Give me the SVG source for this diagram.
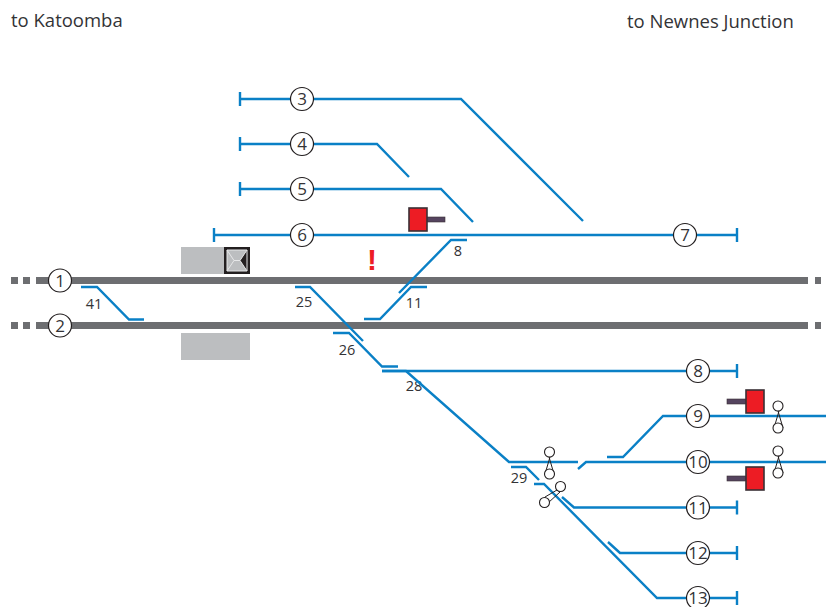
<svg xmlns="http://www.w3.org/2000/svg" width="826" height="607" viewBox="0 0 826 607">
<style>
text{font-family:"Open Sans","Noto Sans","Liberation Sans",sans-serif;fill:#333336}
.t{font-size:18.5px}
.n{font-size:14.5px;text-anchor:middle}
.c{font-size:17px;text-anchor:middle}
.b{fill:none;stroke:#0a80c6;stroke-width:2.4}
.g{fill:none;stroke:#6d6e71;stroke-width:7}
.o{fill:#fff;stroke:#231f20;stroke-width:1.2}
.s{fill:#fff;stroke:#231f20;stroke-width:1.1}
.x{fill:none;stroke:#231f20;stroke-width:1}
.r{fill:#ed1c24;stroke:#3a3035;stroke-width:1.6}
.a{fill:#55445f;stroke:#3a3035;stroke-width:.6}
.p{fill:#bcbec0}
</style>
<g id="labels">
<text class="t" x="11" y="27">to Katoomba</text>
<text class="t" x="627" y="28">to Newnes Junction</text>
<text class="n" x="94" y="309">41</text>
<text class="n" x="304" y="307">25</text>
<text class="n" x="414" y="308">11</text>
<text class="n" x="458" y="256">8</text>
<text class="n" x="347" y="355">26</text>
<text class="n" x="414" y="391">28</text>
<text class="n" x="519" y="483">29</text>
</g>
<g id="platforms">
<rect class="p" x="181" y="247" width="69" height="27"/>
<rect class="p" x="181" y="333" width="69" height="27"/>
</g>
<g id="connectors">
<path class="g" d="M36 280.500H808M11 280.500H18M23 280.500H30M815 280.500H821M36 325.500H808M11 325.500H18M23 325.500H30M815 325.500H821"/>
<path class="b" d="M240 92V106M240 99H461L583 221"/>
<path class="b" d="M240 137V151M240 144H377L409 177"/>
<path class="b" d="M240 182V196M240 189H441L473 222"/>
<path class="b" d="M214 228V242M214 235H737M737 228V242"/>
<path class="b" d="M81 287H97L129 319.500H144"/>
<path class="b" d="M295 287H310L363 341"/>
<path class="b" d="M333 333H349L382 366.500H398"/>
<path class="b" d="M382 371H737M737 364V378"/>
<path class="b" d="M364 319H380L411 287H427"/>
<path class="b" d="M399 293L451 240H467"/>
<path class="b" d="M382 371H406L509 462H578"/>
<path class="b" d="M511 467H526L539 480"/>
<path class="b" d="M534 484H544L657 598H737M737 591V605"/>
<path class="b" d="M562 497L574 507.500H737M737 500.500V514.500"/>
<path class="b" d="M608 542L620 553H737M737 546V560"/>
<path class="b" d="M578 469L586 462H826"/>
<path class="b" d="M607 457H623L663 416H826"/>
</g>
<g id="signal-1"><rect class="a" x="426" y="217" width="19" height="5"/><rect class="r" x="409" y="208" width="18" height="23"/></g>
<g id="signal-2"><rect class="a" x="727" y="399" width="19" height="5"/><rect class="r" x="746" y="390" width="18" height="23"/></g>
<g id="signal-3"><rect class="a" x="727" y="476" width="19" height="5"/><rect class="r" x="746" y="467" width="18" height="23"/></g>
<g id="box"><rect x="224" y="247" width="26" height="27" fill="#231f20"/><path d="M227 250H247V271H227ZM227 250L234 260.500L227 271M247 250L240 260.500L247 271M234 260.500H240" fill="#bcbec0" stroke="#e6e7e8" stroke-width="1"/></g>
<text id="alert" x="372" y="270" font-size="30" font-weight="700" text-anchor="middle" style="fill:#ed1c24;font-family:'Liberation Sans',sans-serif">!</text>
<g id="points-1"><path class="x" d="M549 457L554 474H545L550 457Z"/><circle class="s" cx="549.500" cy="452" r="5"/><circle class="s" cx="549.500" cy="474" r="5"/></g>
<g id="points-2"><path class="x" d="M778 411L783 428H774L779 411Z"/><circle class="s" cx="778" cy="406" r="5"/><circle class="s" cx="778" cy="428" r="5"/></g>
<g id="points-3"><path class="x" d="M778 456L783 473H774L779 456Z"/><circle class="s" cx="778" cy="451" r="5"/><circle class="s" cx="778" cy="473" r="5"/></g>
<g id="points-4"><path class="x" d="M557 490L545 497L548 503L560 492Z"/><circle class="s" cx="560.500" cy="486.500" r="5"/><circle class="s" cx="544.500" cy="502.500" r="5"/></g>
<g id="n1"><circle class="o" cx="60" cy="280.500" r="11.500"/><text class="c" x="60" y="286.500">1</text></g>
<g id="n2"><circle class="o" cx="60" cy="325.500" r="11.500"/><text class="c" x="60" y="331.500">2</text></g>
<g id="n3"><circle class="o" cx="302" cy="99" r="11.500"/><text class="c" x="302" y="105">3</text></g>
<g id="n4"><circle class="o" cx="302" cy="144" r="11.500"/><text class="c" x="302" y="150">4</text></g>
<g id="n5"><circle class="o" cx="302" cy="189" r="11.500"/><text class="c" x="302" y="195">5</text></g>
<g id="n6"><circle class="o" cx="302" cy="235" r="11.500"/><text class="c" x="302" y="241">6</text></g>
<g id="n7"><circle class="o" cx="685" cy="235" r="11.500"/><text class="c" x="685" y="241">7</text></g>
<g id="n8"><circle class="o" cx="698" cy="371" r="11.500"/><text class="c" x="698" y="377">8</text></g>
<g id="n9"><circle class="o" cx="698" cy="416" r="11.500"/><text class="c" x="698" y="422">9</text></g>
<g id="n10"><circle class="o" cx="698" cy="462" r="11.500"/><text class="c" x="698" y="468">10</text></g>
<g id="n11"><circle class="o" cx="698" cy="507.500" r="11.500"/><text class="c" x="698" y="513.500">11</text></g>
<g id="n12"><circle class="o" cx="698" cy="553" r="11.500"/><text class="c" x="698" y="559">12</text></g>
<g id="n13"><circle class="o" cx="698" cy="598" r="11.500"/><text class="c" x="698" y="604">13</text></g>
</svg>
